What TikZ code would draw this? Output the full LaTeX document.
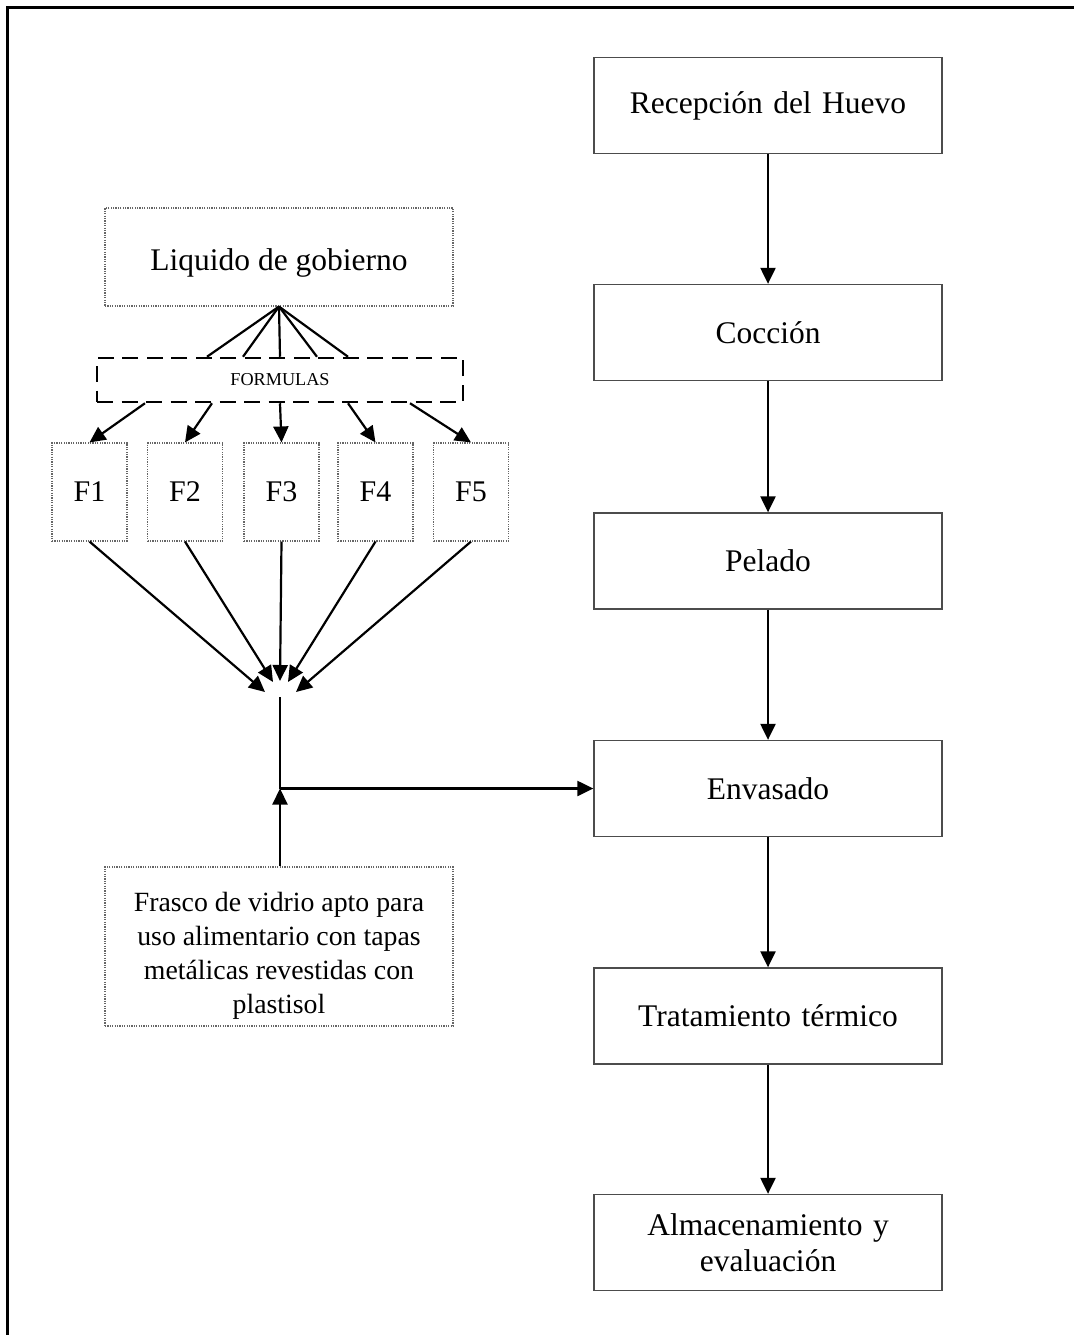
\documentclass[tikz,border=0pt]{standalone}
\usepackage{fontspec}
\setmainfont{Liberation Serif}
\usetikzlibrary{arrows.meta,calc}
\tikzset{
  procbox/.style={draw=black!70, line width=1.3pt, minimum width=348pt, minimum height=96pt,
    inner sep=0pt, align=center, text width=330pt, font=\fontsize{31.5}{36}\selectfont},
  dotbox/.style={draw=black!60, line width=1.1pt, dash pattern=on 1.2pt off 1.2pt, inner sep=0pt, align=center},
  fbox/.style={dotbox, minimum width=75pt, minimum height=98pt, font=\fontsize{30}{34}\selectfont},
  formbox/.style={draw=black, line width=2.5pt, dash pattern=on 16pt off 8.5pt, minimum width=366pt,
    minimum height=44pt, inner sep=0pt, font=\fontsize{18.2}{20}\selectfont},
  conn/.style={line width=2.2pt, draw=black},
  arr/.style={conn, -{Triangle[length=16pt,width=15pt]}}
}
\begin{document}
\begin{tikzpicture}[x=1pt,y=-1pt]
\useasboundingbox (0,0) rectangle (1074,1335);
% frame
\draw[line width=2.2pt] (7.5,1335) -- (7.5,7.5) -- (1074,7.5);

% right column
\node[procbox] (rec) at (768,105.5) {Recepción del Huevo};
\node[procbox] (coc) at (768,332.5) {Cocción};
\node[procbox] (pel) at (768,561) {Pelado};
\node[procbox] (env) at (768,788.5) {Envasado};
\node[procbox] (tra) at (768,1016) {Tratamiento térmico};
\node[procbox] (alm) at (768,1242.5) {Almacenamiento y\\evaluación};
\draw[arr] (rec.south) -- (coc.north);
\draw[arr] (coc.south) -- (pel.north);
\draw[arr] (pel.south) -- (env.north);
\draw[arr] (env.south) -- (tra.north);
\draw[arr] (tra.south) -- (alm.north);

% left column
\node[dotbox, minimum width=348pt, minimum height=98pt, text height=33pt, text depth=7pt,
  font=\fontsize{31.5}{36}\selectfont] (liq) at (279,257) {Liquido de gobierno};
\node[formbox] (form) at (280,380) {FORMULAS};
\foreach \dx in {-73,-37,0,37,68}{
  \draw[conn] (liq.south) -- ($(form.north)+(\dx,0)$);
}
\node[fbox] (f1) at (89.5,492) {F1};
\node[fbox] (f2) at (185,492) {F2};
\node[fbox] (f3) at (281.5,492) {F3};
\node[fbox] (f4) at (375.5,492) {F4};
\node[fbox] (f5) at (471,492) {F5};
\draw[arr] ($(form.south)+(-135,0)$) -- (f1.north);
\draw[arr] ($(form.south)+(-68,0)$) -- (f2.north);
\draw[arr] (form.south) -- (f3.north);
\draw[arr] ($(form.south)+(68,0)$) -- (f4.north);
\draw[arr] ($(form.south)+(130,0)$) -- (f5.north);

\coordinate (t1) at (265,692);
\coordinate (t2) at (273,682);
\coordinate (t3) at (280,681);
\coordinate (t4) at (288,682);
\coordinate (t5) at (296,692);
\draw[arr] (f1.south) -- (t1);
\draw[arr] (f2.south) -- (t2);
\draw[arr] (f3.south) -- (t3);
\draw[arr] (f4.south) -- (t4);
\draw[arr] (f5.south) -- (t5);

\coordinate (jtop) at (280,697);
\coordinate (junc) at (280,788.5);
\draw[conn] (jtop) -- (junc);
\draw[arr] (junc) -- (env.west);

\node[dotbox, minimum width=348pt, minimum height=159pt,
  font=\fontsize{27.8}{34}\selectfont] (fra) at (279,946.5)
  {\parbox{340pt}{\centering\vspace*{18pt}Frasco de vidrio apto para\\uso alimentario con tapas\\metálicas revestidas con\\plastisol}};
\draw[arr] (fra.north -| junc) -- (junc);
\end{tikzpicture}
\end{document}
